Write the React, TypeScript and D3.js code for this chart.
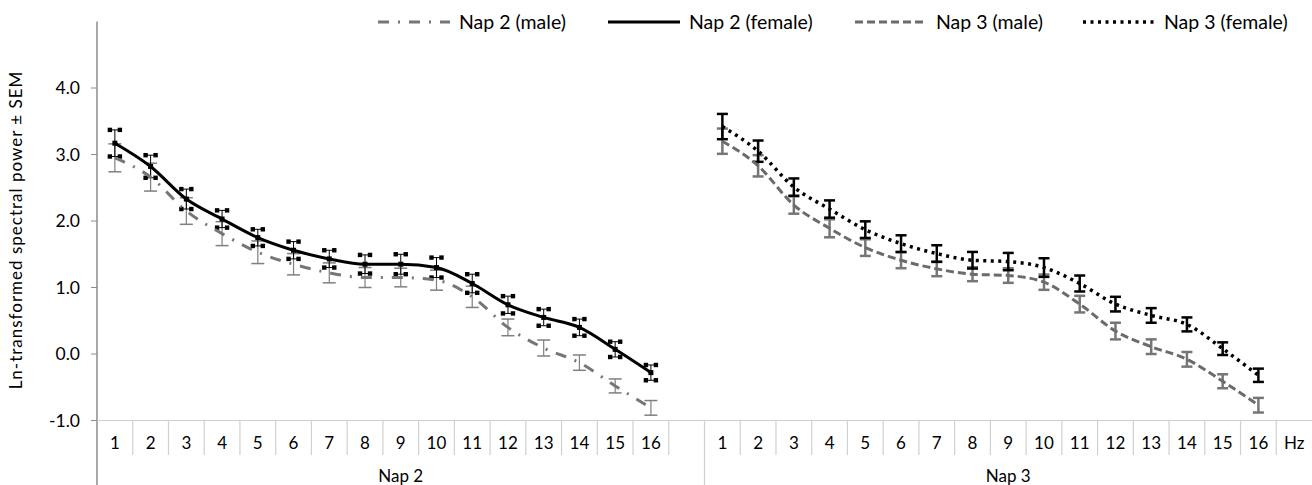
import React, { useEffect, useRef } from "react";
import * as d3 from "d3";

// frequency bins (Hz) per nap
const hzLabels = ["1", "2", "3", "4", "5", "6", "7", "8", "9", "10", "11", "12", "13", "14", "15", "16"];
const groups = ["Nap 2", "Nap 3"];
const yTicks = [-1, 0, 1, 2, 3, 4];

// Nap 2
const nap2Male = [2.95, 2.66, 2.15, 1.81, 1.53, 1.35, 1.22, 1.15, 1.15, 1.11, 0.86, 0.4, 0.09, -0.13, -0.48, -0.81];
const nap2MaleSem = [0.21, 0.21, 0.2, 0.18, 0.17, 0.16, 0.15, 0.15, 0.14, 0.15, 0.16, 0.125, 0.12, 0.115, 0.105, 0.11];
const nap2Female = [3.17, 2.82, 2.33, 2.03, 1.75, 1.56, 1.43, 1.35, 1.35, 1.3, 1.06, 0.74, 0.55, 0.4, 0.07, -0.28];
const nap2FemaleSem = [0.2, 0.17, 0.15, 0.13, 0.125, 0.13, 0.13, 0.14, 0.15, 0.15, 0.14, 0.13, 0.125, 0.125, 0.115, 0.115];

// Nap 3
const nap3Male = [3.2, 2.83, 2.24, 1.89, 1.6, 1.41, 1.28, 1.2, 1.18, 1.08, 0.75, 0.345, 0.11, -0.08, -0.41, -0.77];
const nap3MaleSem = [0.19, 0.16, 0.13, 0.135, 0.125, 0.12, 0.11, 0.105, 0.11, 0.115, 0.125, 0.125, 0.11, 0.11, 0.105, 0.11];
const nap3Female = [3.42, 3.05, 2.51, 2.18, 1.87, 1.66, 1.51, 1.41, 1.39, 1.3, 1.06, 0.75, 0.58, 0.445, 0.08, -0.32];
const nap3FemaleSem = [0.19, 0.16, 0.13, 0.13, 0.125, 0.125, 0.125, 0.125, 0.13, 0.14, 0.12, 0.11, 0.11, 0.105, 0.095, 0.1];

const FONT = "Lato, 'Open Sans', sans-serif";

const App = () => {
  const ref = useRef<HTMLDivElement>(null);

  useEffect(() => {
    const width = 1312;
    const height = 485;
    const left = 97;

    // 17 slots per group: 16 bins plus a trailing slot ("" for Nap 2, "Hz" for Nap 3)
    const slots = groups.flatMap((g, gi) =>
      [...hzLabels, gi === 0 ? "" : "Hz"].map(l => ({ key: `${g}|${l}`, label: l, group: g }))
    );

    const x = d3.scaleBand().domain(slots.map(s => s.key)).range([left, width]).padding(0);
    const y = d3.scaleLinear().domain([-1, 5]).range([420.5, 21.5]);
    const bw = x.bandwidth();
    const cx = (g: string, i: number) => (x(`${g}|${hzLabels[i]}`) as number) + bw / 2;

    const series = [
      { name: "Nap 2 (male)", group: "Nap 2", vals: nap2Male, sem: nap2MaleSem, color: "#767676", width: 3, dash: "11,9,2,9", bar: "thinGray" },
      { name: "Nap 2 (female)", group: "Nap 2", vals: nap2Female, sem: nap2FemaleSem, color: "#000", width: 3, dash: null, bar: "squares" },
      { name: "Nap 3 (male)", group: "Nap 3", vals: nap3Male, sem: nap3MaleSem, color: "#6b6b6b", width: 3, dash: "8,4", bar: "thickGray" },
      { name: "Nap 3 (female)", group: "Nap 3", vals: nap3Female, sem: nap3FemaleSem, color: "#000", width: 3.5, dash: "3,4.5", bar: "thickBlack" },
    ];

    const svg = d3.create("svg")
      .attr("width", width)
      .attr("height", height)
      .style("position", "absolute")
      .style("left", 0)
      .style("top", 0)
      .style("background", "#fff")
      .style("font-family", FONT);

    // y axis
    svg.append("line")
      .attr("x1", left).attr("x2", left)
      .attr("y1", 21.5).attr("y2", height)
      .attr("stroke", "#8c8c8c").attr("stroke-width", 1.5);

    const yt = svg.append("g").selectAll("g").data(yTicks).join("g")
      .attr("transform", d => `translate(0,${y(d)})`);
    yt.append("line").attr("x1", left - 6).attr("x2", left).attr("stroke", "#8c8c8c");
    yt.append("text")
      .attr("x", 80).attr("dy", "0.35em")
      .attr("text-anchor", "end")
      .attr("font-size", 17.5)
      .attr("fill", "#000")
      .text(d => d.toFixed(1));

    svg.append("text")
      .attr("transform", `translate(22,230) rotate(-90)`)
      .attr("text-anchor", "middle")
      .attr("font-size", 17)
      .attr("letter-spacing", 1)
      .text("Ln-transformed spectral power  ± SEM");

    // x axis: baseline, slot separators, group separators
    svg.append("line")
      .attr("x1", left).attr("x2", width)
      .attr("y1", 420.5).attr("y2", 420.5)
      .attr("stroke", "#d0d0d0").attr("stroke-width", 1.2);

    const boundaries = d3.range(1, slots.length).map(i => left + i * bw);
    svg.append("g").selectAll("line").data(boundaries).join("line")
      .attr("x1", d => d).attr("x2", d => d)
      .attr("y1", 420).attr("y2", (d, i) => (i + 1) % 17 === 0 ? height : 455)
      .attr("stroke", "#d0d0d0").attr("stroke-width", 1.2);

    svg.append("g").selectAll("text").data(slots).join("text")
      .attr("x", d => (x(d.key) as number) + bw / 2)
      .attr("y", 443).attr("dy", "0.35em")
      .attr("text-anchor", "middle")
      .attr("font-size", 17)
      .text(d => d.label);

    svg.append("g").selectAll("text").data(groups).join("text")
      .attr("x", (g, gi) => left + (gi * 17 + 8.5) * bw)
      .attr("y", 476).attr("dy", "0.35em")
      .attr("text-anchor", "middle")
      .attr("font-size", 17)
      .text(d => d);

    // error bars
    const bars = svg.append("g");
    series.forEach(s => {
      s.vals.forEach((v, i) => {
        const px = cx(s.group, i);
        const top = y(v + s.sem[i]);
        const bot = y(v - s.sem[i]);
        const g = bars.append("g");
        if (s.bar === "thinGray") {
          g.append("line").attr("x1", px).attr("x2", px).attr("y1", top).attr("y2", bot)
            .attr("stroke", "#7f7f7f").attr("stroke-width", 1.2);
          [top, bot].forEach(yy => g.append("line")
            .attr("x1", px - 6.5).attr("x2", px + 6.5).attr("y1", yy).attr("y2", yy)
            .attr("stroke", "#7f7f7f").attr("stroke-width", 1.5));
        } else if (s.bar === "squares") {
          g.append("line").attr("x1", px).attr("x2", px).attr("y1", top).attr("y2", bot)
            .attr("stroke", "#000").attr("stroke-width", 1);
          [top, bot].forEach(yy => {
            g.append("line")
              .attr("x1", px - 5).attr("x2", px + 5).attr("y1", yy).attr("y2", yy)
              .attr("stroke", "#000").attr("stroke-width", 1);
            [px - 5, px + 5].forEach(sx => g.append("rect")
              .attr("x", sx - 2.2).attr("y", yy - 2.2).attr("width", 4.4).attr("height", 4.4)
              .attr("fill", "#000"));
          });
          g.append("rect")
            .attr("x", px - 2.5).attr("y", y(v) - 2.5).attr("width", 5).attr("height", 5)
            .attr("fill", "#000");
        } else {
          const c = s.bar === "thickBlack" ? "#000" : "#767676";
          g.append("line").attr("x1", px).attr("x2", px).attr("y1", top).attr("y2", bot)
            .attr("stroke", c).attr("stroke-width", 2.5);
          [top, bot].forEach(yy => g.append("line")
            .attr("x1", px - 5.5).attr("x2", px + 5.5).attr("y1", yy).attr("y2", yy)
            .attr("stroke", c).attr("stroke-width", 2.5));
        }
      });
    });

    // lines
    const lineGen = d3.line<number>().curve(d3.curveMonotoneX);
    series.forEach(s => {
      lineGen.x((d, i) => cx(s.group, i)).y(d => y(d));
      svg.append("path")
        .attr("d", lineGen(s.vals))
        .attr("fill", "none")
        .attr("stroke", s.color)
        .attr("stroke-width", s.width)
        .attr("stroke-dasharray", s.dash)
        .attr("stroke-linejoin", "round");
    });

    // legend
    const legendX = [378, 608, 855, 1083];
    const lg = svg.append("g").selectAll("g").data(series).join("g")
      .attr("transform", (d, i) => `translate(${legendX[i]},22)`);
    lg.append("line")
      .attr("x1", 0).attr("x2", 72)
      .attr("stroke", d => d.color)
      .attr("stroke-width", d => d.width)
      .attr("stroke-dasharray", d => d.dash);
    lg.append("text")
      .attr("x", 81).attr("dy", "0.35em")
      .attr("font-size", 19.5)
      .text(d => d.name);

    ref.current!.innerHTML = "";
    ref.current!.appendChild(svg.node()!);
  }, []);

  return <div ref={ref} />;
};

export default App;
